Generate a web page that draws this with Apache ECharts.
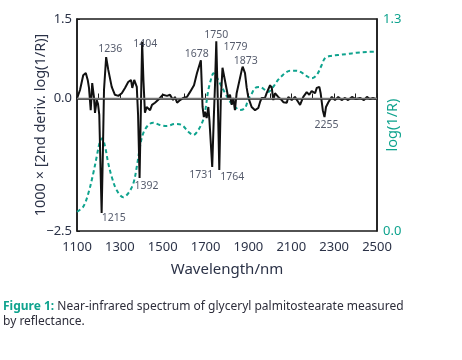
<!DOCTYPE html>
<html>
<head>
<meta charset="utf-8">
<script src="https://cdn.jsdelivr.net/npm/echarts@6/dist/echarts.min.js"></script>
<style>
html,body{margin:0;padding:0;background:#fff;}
#chart{width:462px;height:360px;}
</style>
</head>
<body>
<div id="chart"></div>
<script>
// ---- Data ----
const derivWavelengths = [1100,1114,1129,1141,1150,1156,1164,1171,1179,1184,1192,1198,1204,1210,1215,1221,1226,1236,1246,1262,1277,1293,1309,1324,1339,1352,1358,1367,1379,1385,1392,1398,1404,1410,1417,1425,1441,1450,1464,1478,1487,1501,1520,1534,1548,1557,1567,1581,1595,1613,1627,1646,1660,1678,1686,1692,1697,1705,1713,1718,1731,1738,1744,1750,1757,1764,1771,1779,1799,1806,1814,1822,1829,1837,1845,1853,1869,1873,1884,1892,1899,1907,1915,1931,1946,1954,1962,1969,1977,1985,1993,2001,2009,2016,2024,2039,2055,2063,2079,2086,2102,2117,2133,2141,2156,2172,2184,2195,2211,2219,2231,2237,2247,2255,2262,2273,2289,2304,2319,2335,2351,2365,2383,2402,2421,2439,2453,2467,2481,2495];
const derivValues = [0.00,0.16,0.44,0.48,0.35,0.20,-0.22,0.29,0.03,-0.27,-0.03,-0.10,-0.31,-1.35,-2.16,-0.97,0.16,0.78,0.54,0.22,0.07,0.05,0.10,0.20,0.31,0.35,0.20,0.35,0.22,-0.31,-1.50,-0.22,1.07,0.35,-0.27,-0.16,-0.22,-0.12,-0.08,-0.03,0.01,0.07,0.05,0.07,-0.03,0.03,-0.08,-0.03,0.01,0.03,0.12,0.25,0.48,0.72,-0.16,-0.35,-0.25,-0.37,-0.16,-0.41,-1.29,-0.41,0.25,1.08,-0.03,-1.35,-0.03,0.58,0.16,0.01,0.07,-0.12,0.01,-0.22,0.10,0.12,0.54,0.60,0.48,0.20,0.03,-0.07,-0.16,-0.22,-0.18,-0.07,0.01,0.03,0.01,0.10,0.12,0.25,0.20,-0.03,0.10,0.03,-0.03,-0.07,-0.08,0.03,-0.03,0.03,-0.07,-0.12,0.03,0.12,0.07,0.14,0.10,0.20,0.22,0.10,-0.22,-0.35,-0.16,-0.07,0.03,-0.03,0.03,-0.03,0.01,-0.03,0.03,-0.01,0.01,-0.03,0.03,-0.01,0.01,-0.01];

const logWavelengths = [1100,1129,1153,1176,1192,1207,1218,1231,1246,1262,1285,1316,1339,1363,1379,1394,1409,1433,1456,1487,1519,1557,1589,1619,1643,1666,1689,1697,1713,1729,1736,1749,1767,1791,1814,1837,1861,1884,1898,1917,1931,1954,1977,1991,2015,2038,2061,2071,2094,2125,2149,2172,2195,2219,2242,2257,2281,2318,2359,2405,2452,2491];
const logValues = [0.118,0.149,0.231,0.354,0.456,0.548,0.568,0.517,0.415,0.333,0.251,0.207,0.231,0.292,0.394,0.517,0.599,0.650,0.664,0.650,0.644,0.656,0.650,0.609,0.589,0.619,0.681,0.724,0.865,0.946,0.967,0.950,0.906,0.846,0.793,0.762,0.742,0.754,0.803,0.846,0.877,0.883,0.865,0.852,0.883,0.926,0.957,0.969,0.983,0.983,0.971,0.950,0.936,0.957,1.018,1.059,1.073,1.079,1.085,1.093,1.098,1.099];

const peakWavelengths = [1215,1236,1392,1404,1678,1731,1750,1764,1779,1873,2255];
const xTickLabels = [1100,1300,1500,1700,1900,2100,2300,2500];
const leftTickValues = [-2.5,0,1.5];
const rightTickValues = [0,1.3];

// ---- Styles ----
const TEAL = '#0fa38e';
const INK = '#2b3247';
const FONT = '"Noto Sans", "Liberation Sans", sans-serif';
const labelOffsets = {
  1215:[12,5],1236:[4,-8],1392:[7,8],1404:[3,2],1678:[-4,-6],1731:[-11,8],
  1750:[0,-6],1764:[13,7],1779:[13,-21],1873:[3,-6],2255:[2,8]
};

const derivData = derivWavelengths.map((w,i)=>[w,derivValues[i]]);
const logData = logWavelengths.map((w,i)=>[w,logValues[i]]);
const peakData = peakWavelengths.map(w=>{
  const i = derivWavelengths.indexOf(w);
  return {value:[w,derivValues[i]], label:{offset:labelOffsets[w]}};
});

const fmt = v => (v<0?'\u2212':'') + Math.abs(v).toFixed(1);

const chart = echarts.init(document.getElementById('chart'));
chart.setOption({
  animation:false,
  textStyle:{fontFamily:FONT},
  grid:{left:77,right:85,top:19,bottom:129,show:true,borderColor:'#1a1a1a',borderWidth:1.5,backgroundColor:'transparent'},
  xAxis:{
    type:'value',min:1100,max:2500,interval:100,
    name:'Wavelength/nm',nameLocation:'middle',nameGap:31,nameMoveOverlap:false,
    nameTextStyle:{fontSize:15,color:INK,fontFamily:FONT},
    axisLine:{lineStyle:{color:'#1a1a1a',width:1.5}},
    axisTick:{inside:true,length:5,lineStyle:{color:'#1a1a1a',width:1}},
    axisLabel:{fontSize:13,color:INK,margin:10,fontFamily:FONT,
      formatter:v=> xTickLabels.indexOf(v)>=0 ? String(v) : ''},
    splitLine:{show:false}
  },
  yAxis:[{
    type:'value',min:-2.5,max:1.5,position:'left',
    name:'1000 \u00d7 [2nd deriv. log(1/R)]',nameLocation:'middle',nameGap:29,nameMoveOverlap:false,
    nameTextStyle:{fontSize:14.5,color:INK,fontFamily:FONT},
    axisLine:{show:true,lineStyle:{color:'#1a1a1a',width:1.5}},
    axisTick:{show:true,inside:true,length:3,customValues:leftTickValues,lineStyle:{color:'#1a1a1a'}},
    axisLabel:{fontSize:13,color:INK,margin:5,customValues:leftTickValues,formatter:fmt,fontFamily:FONT},
    splitLine:{show:false}
  },{
    type:'value',min:0,max:1.3,position:'right',
    name:'log(1/R)',nameLocation:'middle',nameGap:8,nameRotate:90,nameMoveOverlap:false,
    nameTextStyle:{fontSize:14.5,color:TEAL,fontFamily:FONT},
    axisLine:{show:true,lineStyle:{color:'#1a1a1a',width:1.5}},
    axisTick:{show:false},
    axisLabel:{fontSize:13,color:TEAL,margin:6,customValues:rightTickValues,formatter:v=>v.toFixed(1),fontFamily:FONT},
    splitLine:{show:false}
  }],
  series:[{
    type:'line',yAxisIndex:1,data:logData,showSymbol:false,smooth:0.35,
    lineStyle:{color:TEAL,width:2,type:[4,3]},z:2
  },{
    type:'line',yAxisIndex:0,data:derivData,showSymbol:false,
    lineStyle:{color:'#111',width:2},z:3,
    markLine:{silent:true,symbol:'none',label:{show:false},
      lineStyle:{color:'#777',width:1.3,type:'solid'},data:[{yAxis:0}]}
  },{
    type:'scatter',yAxisIndex:0,data:peakData,symbolSize:1,
    itemStyle:{color:'rgba(0,0,0,0)'},z:5,
    label:{show:true,position:'inside',align:'center',verticalAlign:'middle',
      fontSize:10.5,color:INK,fontFamily:FONT,formatter:p=>String(p.value[0])}
  }],
  graphic:[{
    type:'text',left:3,top:299,
    style:{
      text:'{b|Figure 1:} Near-infrared spectrum of glyceryl palmitostearate measured\nby reflectance.',
      fontSize:12,fontFamily:FONT,fill:'#2d2d3a',lineHeight:15,
      rich:{b:{fontWeight:'bold',fill:TEAL,fontSize:12,fontFamily:FONT}}
    }
  }]
});
</script>
</body>
</html>
